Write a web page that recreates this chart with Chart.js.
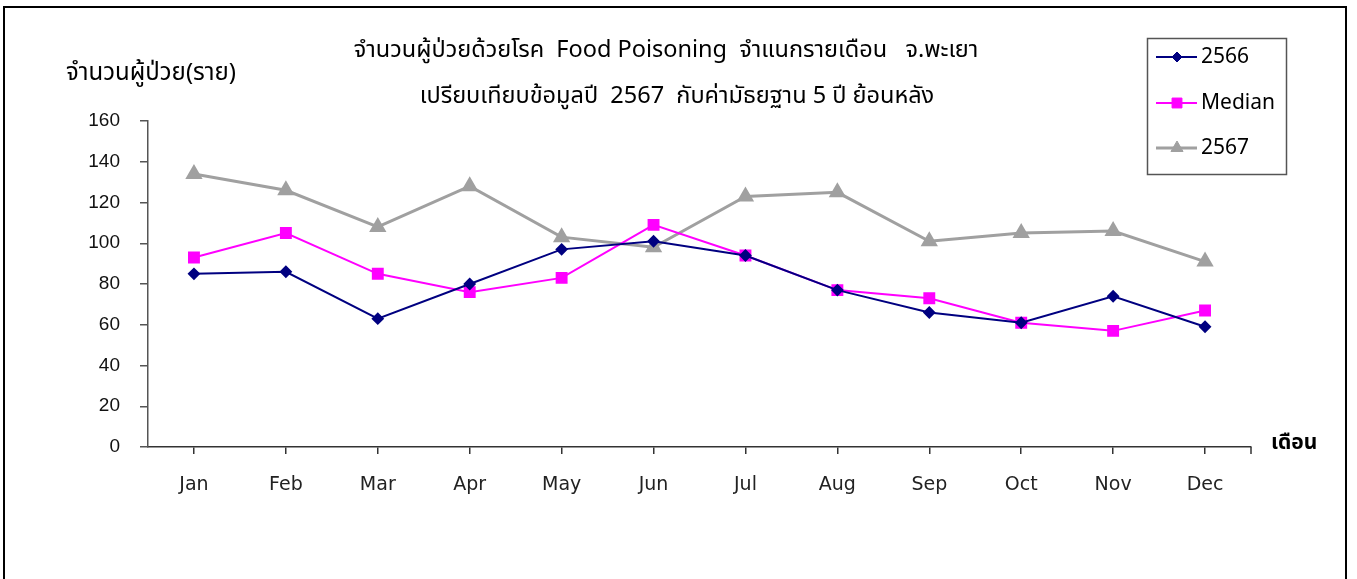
<!DOCTYPE html>
<html lang="th">
<head>
  <meta charset="UTF-8">
  <title>Food Poisoning จ.พะเยา</title>
  <script src="https://cdn.jsdelivr.net/npm/chart.js"></script>
  <style>
    html, body { margin: 0; padding: 0; background: #fff; }
    #wrap { width: 1357px; height: 579px; position: relative; }
  </style>
</head>
<body>
<div id="wrap"><canvas id="chart"></canvas></div>

<script>
// ข้อมูลจากกราฟ
const months = ["Jan", "Feb", "Mar", "Apr", "May", "Jun", "Jul", "Aug", "Sep", "Oct", "Nov", "Dec"];
const y2566 = [85, 86, 63, 80, 97, 101, 94, 77, 66, 61, 74, 59];
const median = [93, 105, 85, 76, 83, 109, 94, 77, 73, 61, 57, 67];
const y2567 = [134, 126, 108, 128, 103, 98, 123, 125, 101, 105, 106, 91];
const yTicks = [0, 20, 40, 60, 80, 100, 120, 140, 160];

const titleLines = [
  "จำนวนผู้ป่วยด้วยโรค  Food Poisoning  จำแนกรายเดือน   จ.พะเยา",
  "เปรียบเทียบข้อมูลปี  2567  กับค่ามัธยฐาน 5 ปี ย้อนหลัง"
];
const yTitle = "จำนวนผู้ป่วย(ราย)";
const xTitle = "เดือน";

const thaiFont = '"Noto Sans", "Noto Sans Thai", sans-serif';

// วาดกรอบ, หัวเรื่อง, legend เอง
const decor = {
  id: "decor",
  afterDraw(chart) {
    const ctx = chart.ctx;
    const area = chart.chartArea;
    ctx.save();

    // กรอบนอก
    ctx.strokeStyle = "#000";
    ctx.lineWidth = 2;
    ctx.beginPath();
    ctx.moveTo(4, 590);
    ctx.lineTo(4, 7);
    ctx.lineTo(1346, 7);
    ctx.lineTo(1346, 590);
    ctx.stroke();

    // tick ปลายแกน x
    ctx.strokeStyle = "#333";
    ctx.lineWidth = 1.5;
    ctx.beginPath();
    ctx.moveTo(area.right, area.bottom);
    ctx.lineTo(area.right, area.bottom + 7);
    ctx.stroke();

    ctx.fillStyle = "#000";
    ctx.textBaseline = "middle";
    ctx.textAlign = "center";
    ctx.font = "23.5px " + thaiFont;
    ctx.fillText(titleLines[0], 666, 50);
    ctx.fillText(titleLines[1], 677, 96);

    ctx.textAlign = "left";
    ctx.font = "24px " + thaiFont;
    ctx.fillText(yTitle, 66, 73);
    ctx.font = "bold 21px " + thaiFont;
    ctx.fillText(xTitle, 1271, 443);

    // legend
    ctx.strokeStyle = "#555";
    ctx.lineWidth = 1.5;
    ctx.strokeRect(1147.5, 38.5, 139, 136);
    const rows = [57, 103, 148];
    chart.data.datasets.forEach((ds, i) => {
      const y = rows[i];
      ctx.strokeStyle = ds.borderColor;
      ctx.lineWidth = ds.borderWidth;
      ctx.beginPath();
      ctx.moveTo(1156, y);
      ctx.lineTo(1197, y);
      ctx.stroke();
      ctx.fillStyle = ds.pointBackgroundColor;
      ctx.strokeStyle = ds.pointBorderColor;
      ctx.lineWidth = 1;
      Chart.helpers.drawPoint(ctx, {
        pointStyle: ds.pointStyle,
        radius: ds.pointRadius,
        borderWidth: 1,
        rotation: 0
      }, 1177, y);
      ctx.fillStyle = "#000";
      ctx.font = "21px " + thaiFont;
      ctx.fillText(ds.label, 1201, y);
    });

    ctx.restore();
  }
};

new Chart(document.getElementById("chart"), {
  type: "line",
  data: {
    labels: months,
    datasets: [
      {
        label: "2566",
        data: y2566,
        borderColor: "#000080",
        backgroundColor: "#000080",
        pointBackgroundColor: "#000080",
        pointBorderColor: "#000080",
        borderWidth: 2,
        pointStyle: "rectRot",
        pointRadius: 5,
        tension: 0
      },
      {
        label: "Median",
        data: median,
        borderColor: "#FF00FF",
        backgroundColor: "#FF00FF",
        pointBackgroundColor: "#FF00FF",
        pointBorderColor: "#FF00FF",
        borderWidth: 2,
        pointStyle: "rect",
        pointRadius: 7,
        tension: 0
      },
      {
        label: "2567",
        data: y2567,
        borderColor: "#A0A0A0",
        backgroundColor: "#A0A0A0",
        pointBackgroundColor: "#A0A0A0",
        pointBorderColor: "#A0A0A0",
        borderWidth: 3,
        pointStyle: "triangle",
        pointRadius: 7,
        tension: 0
      }
    ]
  },
  options: {
    responsive: true,
    maintainAspectRatio: false,
    animation: false,
    layout: { padding: { left: 0, top: 121, right: 106, bottom: 0 } },
    plugins: {
      legend: { display: false },
      title: { display: false },
      tooltip: { enabled: false }
    },
    scales: {
      x: {
        offset: true,
        grid: { display: true, offset: false, drawOnChartArea: false, drawTicks: true, tickLength: 7, color: "#333", lineWidth: 1.5 },
        border: { display: true, color: "#333", width: 1.5 },
        ticks: { color: "#222", padding: 20, font: { family: "DejaVu Sans", size: 19 }, maxRotation: 0 },
        afterFit: s => { s.height = 579 - 447; }
      },
      y: {
        min: 0,
        max: 160,
        afterBuildTicks: s => { s.ticks = yTicks.map(v => ({ value: v })); },
        grid: { display: true, drawOnChartArea: false, drawTicks: true, tickLength: 8, color: "#555", lineWidth: 1.5 },
        border: { display: true, color: "#555", width: 1.5 },
        ticks: { color: "#111", padding: 20, font: { family: "Liberation Sans", size: 19 } },
        afterFit: s => { s.width = 148; }
      }
    }
  },
  plugins: [decor]
});
</script>
</body>
</html>
